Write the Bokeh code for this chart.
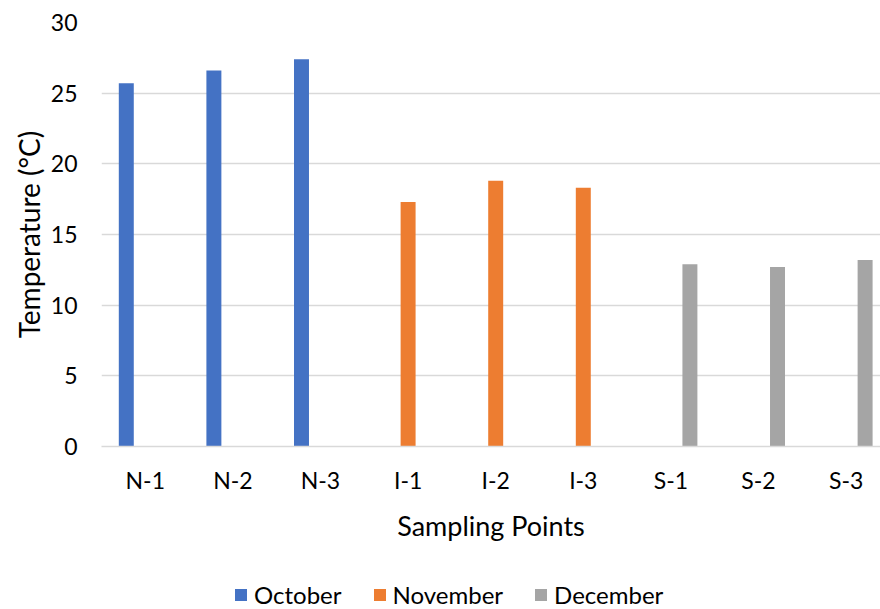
from bokeh.plotting import figure
from bokeh.layouts import column
from bokeh.models import Range1d, FixedTicker, ColumnDataSource, Legend, LegendItem
from bokeh.transform import dodge
from bokeh.embed import file_html
from bokeh.resources import INLINE

# Sampling points and monthly water temperatures (°C)
categories = ["N-1", "N-2", "N-3", "I-1", "I-2", "I-3", "S-1", "S-2", "S-3"]
october = [25.7, 26.6, 27.4, 0, 0, 0, 0, 0, 0]
november = [0, 0, 0, 17.3, 18.8, 18.3, 0, 0, 0]
december = [0, 0, 0, 0, 0, 0, 12.9, 12.7, 13.2]
y_ticks = [0, 5, 10, 15, 20, 25, 30]

series = [("October", october, "#4472C4", -0.217),
          ("November", november, "#ED7D31", 0.0),
          ("December", december, "#A5A5A5", 0.217)]

FONT = "Lato"
TEXT = "#000000"
GRID = "#d9d9d9"

positions = [i + 0.5 for i in range(len(categories))]
source = ColumnDataSource(dict(x=positions, October=october,
                               November=november, December=december))

# ---- main chart ----
p = figure(frame_width=779, frame_height=424, output_backend="svg",
           toolbar_location=None,
           x_range=Range1d(0, 779 / 87.6), y_range=Range1d(0, 30),
           min_border_left=101, min_border_right=0, min_border_top=22,
           min_border_bottom=114)
p.outline_line_color = None
p.background_fill_color = "white"
p.border_fill_color = "white"

for name, vals, color, off in series:
    p.vbar(x=dodge("x", off, range=p.x_range), top=name, width=0.171,
           source=source, fill_color=color, line_color=None)

# x axis: one tick per sampling point
p.xaxis.ticker = FixedTicker(ticks=positions)
p.xaxis.major_label_overrides = {pos: c for pos, c in zip(positions, categories)}
p.xaxis.major_tick_line_color = None
p.xaxis.minor_tick_line_color = None
p.xaxis.axis_line_color = GRID
p.xaxis.axis_line_width = 1.3
p.xaxis.axis_label = "Sampling Points"
p.xaxis.major_label_standoff = 13
p.xaxis.axis_label_standoff = 12

# y axis
p.yaxis.ticker = FixedTicker(ticks=y_ticks)
p.yaxis.major_tick_line_color = None
p.yaxis.minor_tick_line_color = None
p.yaxis.major_tick_out = 0
p.yaxis.axis_line_color = None
p.yaxis.axis_label = "Temperature (°C)"
p.yaxis.major_label_standoff = 24
p.yaxis.axis_label_standoff = 2

for ax in (p.xaxis, p.yaxis):
    ax.major_label_text_font = FONT
    ax.major_label_text_font_size = "23px"
    ax.major_label_text_color = TEXT
    ax.axis_label_text_font = FONT
    ax.axis_label_text_font_style = "normal"
    ax.axis_label_text_color = TEXT
p.xaxis.axis_label_text_font_size = "27px"
p.yaxis.axis_label_text_font_size = "28px"

p.xgrid.grid_line_color = None
p.ygrid.grid_line_color = GRID
p.ygrid.grid_line_width = 1.3

# ---- legend strip under the chart ----
# the same series are bound here (out of view) so the legend swatches
# take their colours from real renderers
lg = figure(width=880, height=49, output_backend="svg", toolbar_location=None,
            x_axis_location=None, y_axis_location=None,
            min_border=0, min_border_left=0, min_border_right=0,
            min_border_top=0, min_border_bottom=0,
            x_range=Range1d(100, 101), y_range=Range1d(100, 101))
lg.outline_line_color = None
lg.grid.grid_line_color = None
lg.background_fill_color = "white"
lg.border_fill_color = "white"

items = []
for name, vals, color, off in series:
    swatch = lg.vbar(x=dodge("x", off, range=lg.x_range), top=name, width=0.171,
                     source=source, fill_color=color, line_color=None)
    items.append(LegendItem(label=name, renderers=[swatch]))

legend = Legend(items=items, orientation="horizontal", location=(132, 0),
                label_text_font=FONT, label_text_font_size="24px",
                label_text_color=TEXT, glyph_width=15, glyph_height=15,
                label_standoff=6, spacing=30, border_line_color=None,
                background_fill_alpha=0, margin=0, padding=0)
lg.add_layout(legend, "center")

layout = column(p, lg, spacing=0)
open("out.html", "w").write(file_html(layout, INLINE))
